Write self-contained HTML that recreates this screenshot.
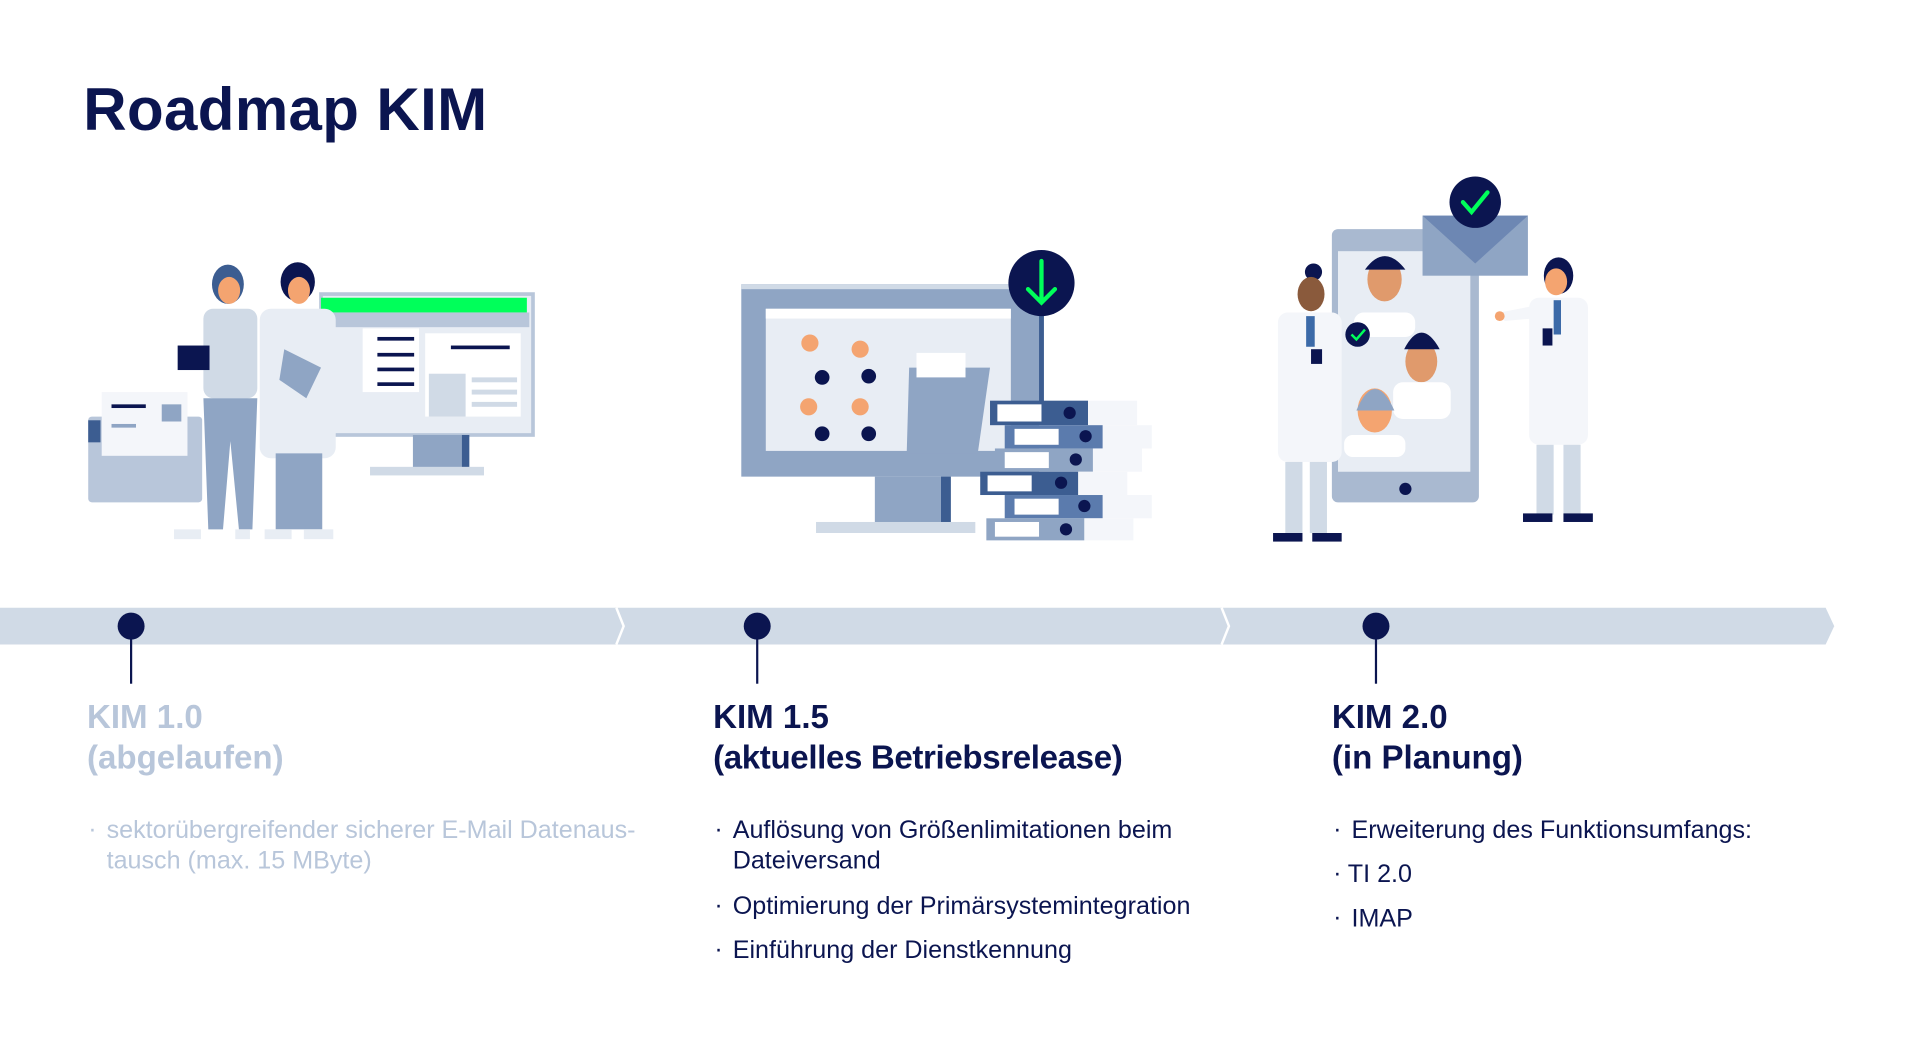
<!DOCTYPE html>
<html><head><meta charset="utf-8"><style>
html,body{margin:0;padding:0;background:#fff;width:1920px;height:1048px;overflow:hidden}
svg{display:block}
text{font-family:"Liberation Sans",sans-serif}
</style></head><body>
<svg width="1920" height="1048" viewBox="0 0 1567 855.3" preserveAspectRatio="none" xmlns="http://www.w3.org/2000/svg">
<text x="68" y="106" font-size="49" font-weight="bold" fill="#0b1550" letter-spacing="0.3">Roadmap KIM</text>

<!-- Left illustration -->
<rect x="262" y="240" width="173" height="115" fill="#e8edf4" stroke="#b8c6da" stroke-width="3"/>
<rect x="262" y="243" width="168" height="12" fill="#00ff5a"/>
<rect x="262" y="255" width="170" height="12" fill="#b8c6da"/>
<rect x="296" y="268" width="46" height="52" fill="#fff"/>
<rect x="347" y="272" width="78" height="68" fill="#fff"/>
<rect x="350" y="305" width="30" height="35" fill="#d0dae6"/>
<rect x="385" y="308" width="37" height="4" fill="#d0dae6"/><rect x="385" y="318" width="37" height="4" fill="#d0dae6"/><rect x="385" y="328" width="37" height="4" fill="#d0dae6"/>
<rect x="308" y="275" width="30" height="3" fill="#0b1550"/><rect x="308" y="288" width="30" height="3" fill="#0b1550"/><rect x="308" y="300" width="30" height="3" fill="#0b1550"/><rect x="308" y="312" width="30" height="3" fill="#0b1550"/>
<rect x="368" y="282" width="48" height="3" fill="#0b1550"/>
<rect x="337" y="355" width="46" height="27" fill="#8fa5c4"/><rect x="377" y="355" width="6" height="27" fill="#3c5d91"/>
<rect x="302" y="381" width="93" height="7" fill="#d0dae6"/>
<rect x="72" y="340" width="93" height="70" rx="3" fill="#b8c6da"/>
<rect x="72" y="343" width="10" height="18" fill="#3c5d91"/>
<rect x="83" y="320" width="70" height="52" fill="#f4f6fa"/>
<rect x="91" y="330" width="28" height="3" fill="#0b1550"/><rect x="91" y="346" width="20" height="3" fill="#8fa5c4"/>
<rect x="132" y="330" width="16" height="14" fill="#8fa5c4"/>
<ellipse cx="186" cy="232" rx="13" ry="16" fill="#3c5d91"/>
<ellipse cx="187" cy="237" rx="9" ry="11" fill="#f4a470"/>
<rect x="166" y="252" width="44" height="73" rx="8" fill="#d0dae6"/>
<polygon points="166,325 210,325 206,432 195,432 188,360 182,432 170,432" fill="#8fa5c4"/>
<rect x="145" y="282" width="26" height="20" fill="#0b1550"/>
<rect x="142" y="432" width="22" height="8" fill="#e8edf4"/><rect x="192" y="432" width="12" height="8" fill="#e8edf4"/>
<ellipse cx="243" cy="230" rx="14" ry="16" fill="#0b1550"/>
<ellipse cx="244" cy="237" rx="9" ry="11" fill="#f4a470"/>
<rect x="212" y="252" width="62" height="122" rx="9" fill="#e8edf4"/>
<rect x="225" y="370" width="38" height="62" fill="#8fa5c4"/>
<polygon points="232,285 262,300 250,325 228,310" fill="#8fa5c4"/>
<rect x="216" y="432" width="22" height="8" fill="#e8edf4"/><rect x="248" y="432" width="24" height="8" fill="#e8edf4"/>

<!-- Middle illustration -->
<rect x="605" y="232" width="243" height="157" fill="#8fa5c4"/>
<rect x="605" y="232" width="243" height="4" fill="#d0dae6"/>
<rect x="625" y="252" width="200" height="116" fill="#e8edf4"/>
<rect x="625" y="252" width="200" height="8" fill="#fff"/>
<rect x="714" y="389" width="62" height="38" fill="#8fa5c4"/><rect x="768" y="389" width="8" height="38" fill="#3c5d91"/>
<rect x="666" y="426" width="130" height="9" fill="#d0dae6"/>
<polygon points="742,300 808,300 798,370 740,370" fill="#8fa5c4"/>
<rect x="748" y="288" width="40" height="20" fill="#fff"/>
<g fill="#f4a470"><circle cx="661" cy="280" r="7"/><circle cx="702" cy="285" r="7"/><circle cx="660" cy="332" r="7"/><circle cx="702" cy="332" r="7"/></g>
<g fill="#0b1550"><circle cx="671" cy="308" r="6"/><circle cx="709" cy="354" r="6"/><circle cx="709" cy="307" r="6"/><circle cx="671" cy="354" r="6"/></g>
<rect x="848" y="255" width="4" height="75" fill="#3c5d91"/>
<circle cx="850" cy="231" r="27" fill="#0b1550"/>
<path d="M850 213 V246 M839 236 L850 247 L861 236" stroke="#00ff5a" stroke-width="3.5" fill="none" stroke-linecap="round"/>
<g>
<rect x="808" y="327" width="80" height="20" fill="#3c5d91"/><rect x="888" y="327" width="40" height="20" fill="#f4f6fa"/><rect x="814" y="330" width="36" height="14" fill="#fff"/><circle cx="873" cy="337" r="5" fill="#0b1550"/>
<rect x="820" y="347" width="80" height="19" fill="#5b7bad"/><rect x="900" y="347" width="40" height="19" fill="#f4f6fa"/><rect x="828" y="350" width="36" height="13" fill="#fff"/><circle cx="886" cy="356" r="5" fill="#0b1550"/>
<rect x="812" y="366" width="80" height="19" fill="#8fa5c4"/><rect x="892" y="366" width="40" height="19" fill="#f4f6fa"/><rect x="820" y="369" width="36" height="13" fill="#fff"/><circle cx="878" cy="375" r="5" fill="#0b1550"/>
<rect x="800" y="385" width="80" height="19" fill="#3c5d91"/><rect x="880" y="385" width="40" height="19" fill="#f4f6fa"/><rect x="806" y="388" width="36" height="13" fill="#fff"/><circle cx="866" cy="394" r="5" fill="#0b1550"/>
<rect x="820" y="404" width="80" height="19" fill="#5b7bad"/><rect x="900" y="404" width="40" height="19" fill="#f4f6fa"/><rect x="828" y="407" width="36" height="13" fill="#fff"/><circle cx="885" cy="413" r="5" fill="#0b1550"/>
<rect x="805" y="423" width="80" height="18" fill="#8fa5c4"/><rect x="885" y="423" width="40" height="18" fill="#f4f6fa"/><rect x="812" y="426" width="36" height="12" fill="#fff"/><circle cx="870" cy="432" r="5" fill="#0b1550"/>
</g>

<!-- Right illustration -->
<rect x="1087" y="187" width="120" height="223" rx="5" fill="#a9b9d0"/>
<rect x="1092" y="205" width="108" height="180" fill="#e8edf4"/>
<circle cx="1147" cy="399" r="5" fill="#0b1550"/>
<rect x="1161" y="176" width="86" height="49" fill="#8fa5c4"/>
<polygon points="1161,176 1247,176 1204,215" fill="#6d87b3"/>
<circle cx="1204" cy="165" r="21" fill="#0b1550"/>
<path d="M1194 165 L1201 173 L1214 157" stroke="#00ff5a" stroke-width="3.5" fill="none" stroke-linecap="round"/>
<ellipse cx="1130" cy="228" rx="14" ry="18" fill="#e09a6c"/><path d="M1114 220 Q1130 198 1147 220" fill="#0b1550"/>
<rect x="1105" y="255" width="50" height="20" rx="8" fill="#fff"/>
<circle cx="1108" cy="273" r="10" fill="#0b1550"/><path d="M1103 273 l4 4 l7-8" stroke="#00ff5a" stroke-width="2" fill="none"/>
<ellipse cx="1160" cy="295" rx="13" ry="17" fill="#e09a6c"/><path d="M1146 285 Q1160 258 1175 285" fill="#0b1550"/>
<rect x="1137" y="312" width="47" height="30" rx="8" fill="#fff"/>
<ellipse cx="1122" cy="335" rx="14" ry="18" fill="#f4a470"/><path d="M1107 335 Q1122 300 1138 335" fill="#8fa5c4"/>
<rect x="1097" y="355" width="50" height="18" rx="7" fill="#fff"/>
<circle cx="1072" cy="222" r="7" fill="#0b1550"/>
<ellipse cx="1070" cy="240" rx="11" ry="14" fill="#8a5a3c"/>
<rect x="1043" y="255" width="52" height="122" rx="8" fill="#f4f6fa"/>
<rect x="1066" y="258" width="7" height="25" fill="#3c6aa8"/>
<rect x="1049" y="377" width="14" height="58" fill="#d0dae6"/><rect x="1069" y="377" width="14" height="58" fill="#d0dae6"/>
<rect x="1039" y="435" width="24" height="7" fill="#0b1550"/><rect x="1071" y="435" width="24" height="7" fill="#0b1550"/>
<rect x="1070" y="285" width="9" height="12" fill="#0b1550"/>
<ellipse cx="1272" cy="225" rx="12" ry="15" fill="#0b1550"/>
<ellipse cx="1270" cy="230" rx="9" ry="11" fill="#f4a470"/>
<rect x="1248" y="243" width="48" height="120" rx="8" fill="#f4f6fa"/>
<rect x="1268" y="245" width="6" height="28" fill="#3c6aa8"/>
<polygon points="1250,260 1228,262 1224,255 1250,250" fill="#f4f6fa"/>
<circle cx="1224" cy="258" r="4" fill="#f4a470"/>
<rect x="1254" y="363" width="14" height="57" fill="#d0dae6"/><rect x="1276" y="363" width="14" height="57" fill="#d0dae6"/>
<rect x="1243" y="419" width="24" height="7" fill="#0b1550"/><rect x="1276" y="419" width="24" height="7" fill="#0b1550"/>
<rect x="1259" y="268" width="8" height="14" fill="#0b1550"/>

<!-- timeline -->
<polygon points="0,496 1490,496 1497,511 1490,526 0,526" fill="#d0dae6"/>
<polyline points="503,496 509,511 503,526" stroke="#fff" stroke-width="2" fill="none"/>
<polyline points="997,496 1003,511 997,526" stroke="#fff" stroke-width="2" fill="none"/>
<line x1="107" y1="511" x2="107" y2="558" stroke="#0b1550" stroke-width="1.8"/>
<line x1="618" y1="511" x2="618" y2="558" stroke="#0b1550" stroke-width="1.8"/>
<line x1="1123" y1="511" x2="1123" y2="558" stroke="#0b1550" stroke-width="1.8"/>
<circle cx="107" cy="511" r="11" fill="#0b1550"/>
<circle cx="618" cy="511" r="11" fill="#0b1550"/>
<circle cx="1123" cy="511" r="11" fill="#0b1550"/>

<!-- text -->
<g font-weight="bold" font-size="27">
<text x="71" y="594" fill="#b8c6da">KIM 1.0</text>
<text x="71" y="627" fill="#b8c6da">(abgelaufen)</text>
<text x="582" y="594" fill="#0b1550">KIM 1.5</text>
<text x="582" y="627" fill="#0b1550" letter-spacing="-0.3">(aktuelles Betriebsrelease)</text>
<text x="1087" y="594" fill="#0b1550">KIM 2.0</text>
<text x="1087" y="627" fill="#0b1550">(in Planung)</text>
</g>
<g font-size="20.5">
<g fill="#b8c6da">
<text x="72" y="683">·</text>
<text x="87" y="684">sektorübergreifender sicherer E-Mail Datenaus-</text>
<text x="87" y="709">tausch (max. 15 MByte)</text>
</g>
<g fill="#0b1550">
<text x="583" y="683">·</text><text x="598" y="684">Auflösung von Größenlimitationen beim</text>
<text x="598" y="709">Dateiversand</text>
<text x="583" y="745">·</text><text x="598" y="746">Optimierung der Primärsystemintegration</text>
<text x="583" y="781">·</text><text x="598" y="782">Einführung der Dienstkennung</text>
<text x="1088" y="683">·</text><text x="1103" y="684">Erweiterung des Funktionsumfangs:</text>
<text x="1088" y="719">·</text><text x="1100" y="720">TI 2.0</text>
<text x="1088" y="755">·</text><text x="1103" y="756">IMAP</text>
</g>
</g>
</svg>
</body></html>
